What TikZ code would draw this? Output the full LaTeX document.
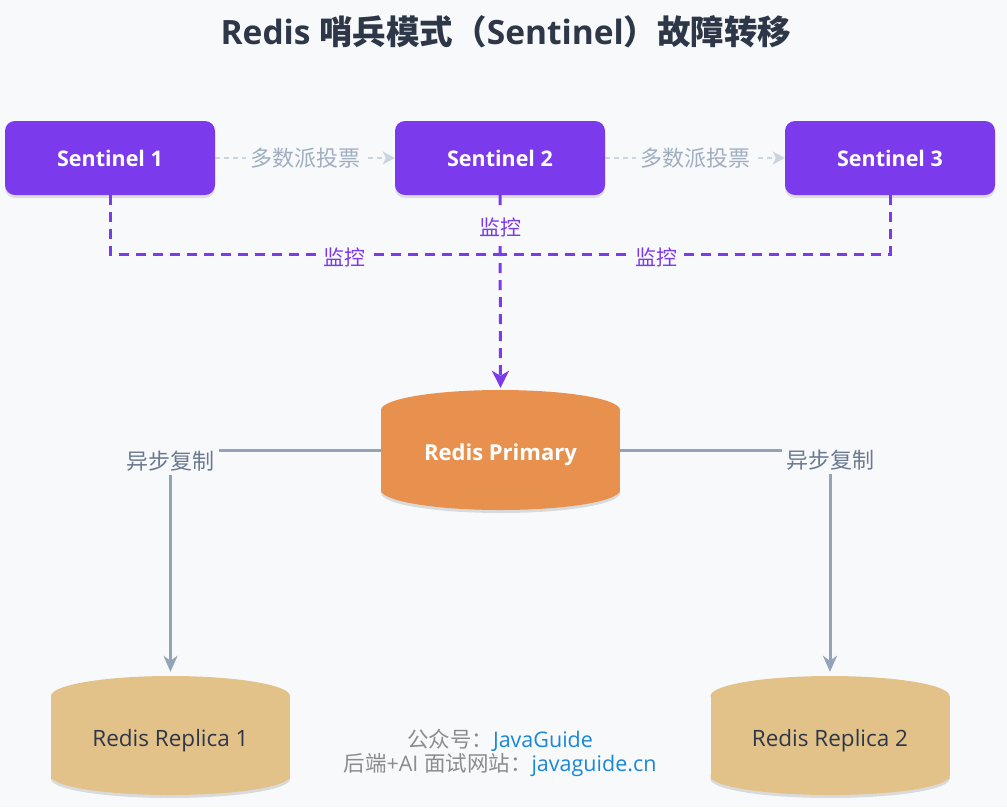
\documentclass[tikz,border=0pt]{standalone}
\usepackage{fontspec}
\setmainfont{Open Sans}
\newfontfamily\cjk{Noto Sans CJK SC}
\usetikzlibrary{arrows.meta,shadows}
\definecolor{bg}{HTML}{F8F9FB}
\definecolor{purp}{HTML}{7C3AED}
\definecolor{orng}{HTML}{E8914F}
\definecolor{tan}{HTML}{E3C28A}
\definecolor{titlec}{HTML}{2D3748}
\definecolor{repl}{HTML}{94A3B8}
\definecolor{repltxt}{HTML}{6B7A90}
\definecolor{votel}{HTML}{CBD5E0}
\definecolor{votet}{HTML}{A0AEC0}
\definecolor{wmgray}{HTML}{8C8C8C}
\definecolor{wmblue}{HTML}{1A87D9}
\newcommand{\zh}[1]{{\cjk #1}}
\tikzset{
  sentinel/.style={fill=purp, rounded corners=10pt, minimum width=210pt, minimum height=74pt,
    text=white, font=\fontsize{21.5}{25}\selectfont\bfseries,
    drop shadow={opacity=0.22, shadow xshift=0pt, shadow yshift=-3pt}},
  votearrow/.style={draw=votel, line width=1.5pt, dash pattern=on 5pt off 4pt,
    -{Stealth[length=12pt,width=13pt,inset=3pt]}},
  votelabel/.style={fill=bg, text=votet, inner sep=4pt, font=\fontsize{22}{25}\selectfont\cjk},
  monitor/.style={draw=purp, line width=3pt, dash pattern=on 10pt off 7pt},
  monlabel/.style={fill=bg, text=purp, inner sep=3pt, font=\fontsize{21}{24}\selectfont\cjk},
  replline/.style={draw=repl, line width=3pt},
  repllabel/.style={fill=bg, text=repltxt, inner sep=0pt, minimum width=96pt, minimum height=27pt,
    font=\fontsize{22}{25}\selectfont\cjk},
  anchorbox/.style={inner sep=0pt, minimum width=239pt, minimum height=120pt},
}
\begin{document}
\begin{tikzpicture}[x=1pt,y=-1pt]
\fill[bg] (0,0) rectangle (1007,807);
\useasboundingbox (0,0) rectangle (1007,807);

% title
\node[text=titlec, font=\fontsize{33.5}{38}\selectfont\bfseries] (title) at (506,32)
  {Redis \zh{哨兵模式（}Sentinel\zh{）故障转移}};

% sentinels
\node[sentinel] (s1) at (110,158) {Sentinel 1};
\node[sentinel] (s2) at (500,158) {Sentinel 2};
\node[sentinel] (s3) at (890,158) {Sentinel 3};

% vote arrows
\draw[votearrow] (s1.east) -- node[votelabel] (v1) {多数派投票} (s2.west);
\draw[votearrow] (s2.east) -- node[votelabel] (v2) {多数派投票} (s3.west);

% primary cylinder
\fill[black, opacity=0.12] (381,413) rectangle (620,493);
\fill[black, opacity=0.12] (500.5,493) ellipse [x radius=119.5, y radius=20];
\fill[orng] (381,410) rectangle (620,490);
\fill[orng] (500.5,410) ellipse [x radius=119.5, y radius=20];
\fill[orng] (500.5,490) ellipse [x radius=119.5, y radius=20];
\node[anchorbox] (p) at (500.5,450) {};
\node[text=white, font=\fontsize{22}{26}\selectfont\bfseries] (pt) at (500.5,455) {Redis Primary};

% replica cylinders
\foreach \cx/\nm/\lab in {170.5/r1/Redis Replica 1, 830/r2/Redis Replica 2}{
  \fill[black, opacity=0.12] (\cx-119.5,699) rectangle (\cx+119.5,779);
  \fill[black, opacity=0.12] (\cx,779) ellipse [x radius=119.5, y radius=19];
  \fill[tan] (\cx-119.5,696) rectangle (\cx+119.5,776);
  \fill[tan] (\cx,696) ellipse [x radius=119.5, y radius=20];
  \fill[tan] (\cx,776) ellipse [x radius=119.5, y radius=19];
  \node[anchorbox] (\nm) at (\cx,736) {};
  \node[text=titlec, font=\fontsize{22.5}{26}\selectfont] at (\cx,741) {\lab};
}

% monitoring
\coordinate (m) at (500,254);
\draw[monitor] (s1.south) -- (s1.south |- m) -- node[pos=0.6, monlabel, yshift=-3pt] (ml1) {监控} (m);
\draw[monitor] (s3.south) -- (s3.south |- m) -- node[pos=0.6, monlabel, yshift=-3pt] (ml3) {监控} (m);
\draw[monitor, -{Stealth[length=17pt,width=17pt,inset=5pt]}, shorten >=2pt]
  (s2.south) -- node[pos=0.165, monlabel, inner ysep=7pt] (ml2) {监控} (p.north);

% replication
\coordinate (c1) at (r1.north |- p.west);
\coordinate (c2) at (r2.north |- p.west);
\draw[replline, -{Stealth[length=16pt,width=14pt,inset=5pt]}, shorten >=4pt]
  (p.west) -- (c1) -- (r1.north);
\draw[replline, -{Stealth[length=16pt,width=14pt,inset=5pt]}, shorten >=4pt]
  (p.east) -- (c2) -- (r2.north);
\node[repllabel] (rl1) at ([yshift=-11pt]c1) {异步复制};
\node[repllabel] (rl2) at ([yshift=-10pt]c2) {异步复制};

% watermark
\node[font=\fontsize{21.5}{25}\selectfont, align=center, inner sep=0pt] (wm) at (500,753)
  {\textcolor{wmgray}{\zh{公众号：}}\textcolor{wmblue}{JavaGuide}\\[-1pt]
   \textcolor{wmgray}{\zh{后端}+AI \zh{面试网站：}}\textcolor{wmblue}{javaguide.cn}};
\end{tikzpicture}
\end{document}
